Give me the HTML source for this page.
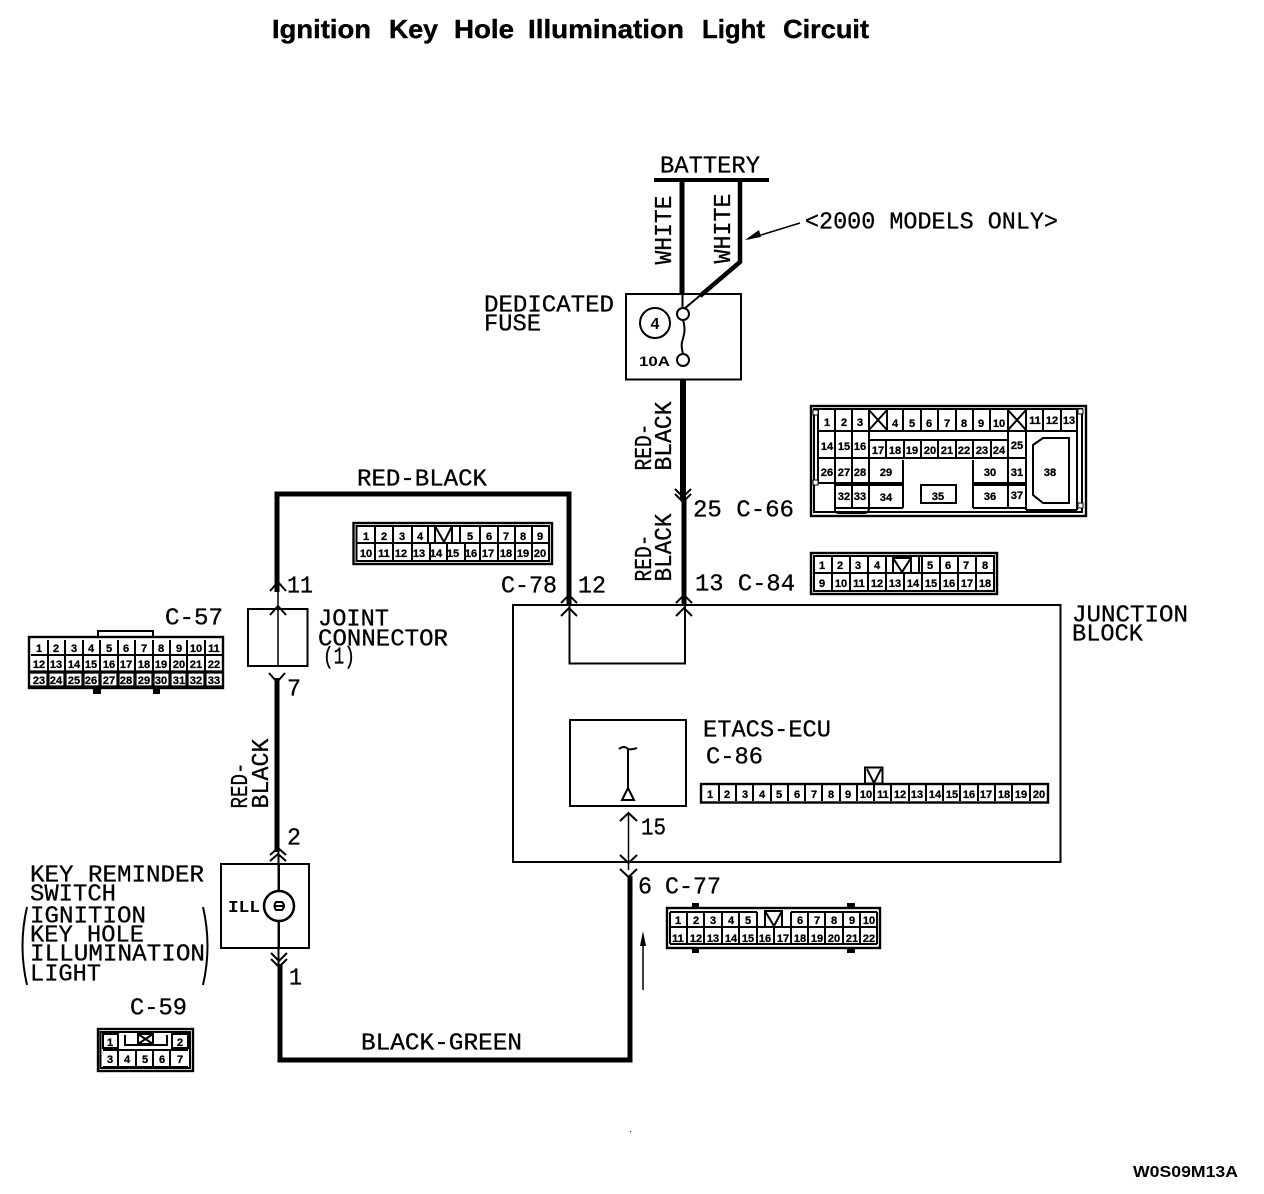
<!DOCTYPE html>
<html><head><meta charset="utf-8"><title>Ignition Key Hole Illumination Light Circuit</title>
<style>
html,body{margin:0;padding:0;background:#fff}
svg{display:block}
.l{font-family:"Liberation Mono",monospace;font-size:24px;fill:#000;stroke:#000;stroke-width:.3}
.t{font-family:"Liberation Sans",sans-serif;font-weight:bold;font-size:26px;fill:#000;stroke:#000;stroke-width:.4}
.n text{font-family:"Liberation Sans",sans-serif;font-weight:bold;font-size:11px;text-anchor:middle;fill:#000;stroke:#000;stroke-width:.3}
.g{fill:none;stroke:#000;stroke-width:2}
.o{fill:#fff;stroke:#000;stroke-width:2.4}
.w{fill:none;stroke:#000;stroke-width:5}
.a{fill:none;stroke:#000;stroke-width:2}
.b{fill:none;stroke:#000;stroke-width:2}
</style></head><body>
<svg width="1264" height="1194" viewBox="0 0 1264 1194" xmlns="http://www.w3.org/2000/svg">
<rect width="1264" height="1194" fill="#fff"/>
<!-- title -->
<g transform="translate(0 -1)">
<text class="t" x="272" y="39" textLength="99" lengthAdjust="spacingAndGlyphs">Ignition</text>
<text class="t" x="389" y="39" textLength="49" lengthAdjust="spacingAndGlyphs">Key</text>
<text class="t" x="454" y="39" textLength="60" lengthAdjust="spacingAndGlyphs">Hole</text>
<text class="t" x="528" y="39" textLength="156" lengthAdjust="spacingAndGlyphs">Illumination</text>
<text class="t" x="702" y="39" textLength="63" lengthAdjust="spacingAndGlyphs">Light</text>
<text class="t" x="783" y="39" textLength="86" lengthAdjust="spacingAndGlyphs">Circuit</text>
</g>

<!-- boxes -->
<rect x="626" y="294" width="115" height="85.500" class="b" />
<rect x="248" y="609" width="59.500" height="57" class="b"/>
<rect x="221" y="864" width="88" height="84" class="b"/>
<rect x="513" y="605" width="547.500" height="257" class="b" stroke-width="2.500"/>
<path d="M569.500 605V663.500H685V605" class="b"/>
<rect x="570" y="720" width="116" height="86" class="b"/>

<!-- wires -->
<path d="M654 180H769" fill="none" stroke="#000" stroke-width="4"/>
<path d="M682 180V294" fill="none" stroke="#000" stroke-width="5"/>
<path d="M682.500 294V308" fill="none" stroke="#000" stroke-width="2"/>
<path d="M740 181V262L700 296" fill="none" stroke="#000" stroke-width="4.500"/>
<path d="M703 293L684 309" class="a"/>
<path d="M683 380V500" fill="none" stroke="#000" stroke-width="6"/>
<path d="M684 500V604" fill="none" stroke="#000" stroke-width="5"/>
<path d="M277 592V494H569V604" class="w"/>
<path d="M278 590V666" fill="none" stroke="#000" stroke-width="1.500"/>
<path d="M277 678V852" class="w"/>
<path d="M278.500 850V968" fill="none" stroke="#000" stroke-width="2"/>
<path d="M280 964V1060H630V876" class="w"/>
<path d="M628.500 814V870" fill="none" stroke="#000" stroke-width="1.500"/>

<!-- chevrons -->
<path d="M561 603L569 595L577 603M561 616L569 608L577 616M676 603L684 595L692 603M676 616L684 608L692 616" class="a"/>
<path d="M675 489L683 497L691 489M675 494L683 502L691 494" class="a"/>
<path d="M270 591L278 582L286 591M270 615L278 606L286 615" class="a"/>
<path d="M269 673L277 682L285 673" class="a"/>
<path d="M270 855L278 848L286 855M270 861L278 854L286 861" class="a"/>
<path d="M271 953L279 961L287 953M271 959L279 967L287 959" class="a"/>
<path d="M620 821L628.500 813L637 821M620 855L628.500 863L637 855M620 869L628.500 877L637 869" class="a"/>

<!-- fuse -->
<circle cx="655" cy="323" r="15" fill="#fff" stroke="#000" stroke-width="2"/>
<text x="655" y="329" text-anchor="middle" font-family="Liberation Sans,sans-serif" font-weight="bold" font-size="16">4</text>
<circle cx="683" cy="314" r="6" fill="#fff" stroke="#000" stroke-width="2"/>
<circle cx="683" cy="360" r="6" fill="#fff" stroke="#000" stroke-width="2"/>
<path d="M683 320C686 330 684 335 682 342C681 346 682 350 683 354" class="b"/>
<text x="639" y="366" font-family="Liberation Sans,sans-serif" font-weight="bold" font-size="14" textLength="31" lengthAdjust="spacingAndGlyphs">10A</text>

<!-- 2000 arrow -->
<path d="M800 223L748 239" fill="none" stroke="#000" stroke-width="1.500"/>
<path d="M745 240L759 230L761 237Z" fill="#000"/>

<!-- switch symbol -->
<circle cx="279" cy="906" r="15" fill="#fff" stroke="#000" stroke-width="2.500"/>
<path d="M279 864V892M279 920V948" fill="none" stroke="#000" stroke-width="2"/>
<path d="M282 902H276Q273 906 276 910H282Q286 906 282 902ZM274 906H285" fill="none" stroke="#000" stroke-width="2"/>
<text x="228" y="912" font-family="Liberation Mono,monospace" font-weight="bold" font-size="17" textLength="32" lengthAdjust="spacingAndGlyphs">ILL</text>
<path d="M27 907Q18 946 27 985M203 907Q212 946 203 985" class="b"/>

<!-- ecu symbol -->
<path d="M619 749Q624 745 628 749Q632 750 637 748M628 749V791" class="b"/>
<path d="M628 788L622 800H634Z" fill="#fff" stroke="#000" stroke-width="2"/>

<!-- small arrow -->
<path d="M643 945V990" fill="none" stroke="#000" stroke-width="1.500"/>
<path d="M643 931L640 946H646Z" fill="#000"/>
<rect x="630" y="1131" width="1" height="1" fill="#000"/>

<!-- labels -->
<g transform="translate(0 -1.500)">
<text class="l" x="660" y="174" textLength="100" lengthAdjust="spacingAndGlyphs">BATTERY</text>
<text class="l" x="805" y="230" textLength="253" lengthAdjust="spacingAndGlyphs">&lt;2000 MODELS ONLY&gt;</text>
<text class="l" x="484" y="313" textLength="130" lengthAdjust="spacingAndGlyphs">DEDICATED</text>
<text class="l" x="484" y="332" textLength="57" lengthAdjust="spacingAndGlyphs">FUSE</text>
<text class="l" transform="translate(671 266) rotate(-90)" textLength="69" lengthAdjust="spacingAndGlyphs">WHITE</text>
<text class="l" transform="translate(730 265) rotate(-90)" textLength="70" lengthAdjust="spacingAndGlyphs">WHITE</text>
<text class="l" transform="translate(651 472) rotate(-90)" textLength="47" lengthAdjust="spacingAndGlyphs">RED-</text>
<text class="l" transform="translate(671 472) rotate(-90)" textLength="69" lengthAdjust="spacingAndGlyphs">BLACK</text>
<text class="l" transform="translate(651 583) rotate(-90)" textLength="47" lengthAdjust="spacingAndGlyphs">RED-</text>
<text class="l" transform="translate(671 583) rotate(-90)" textLength="68" lengthAdjust="spacingAndGlyphs">BLACK</text>
<text class="l" transform="translate(247 810) rotate(-90)" textLength="46" lengthAdjust="spacingAndGlyphs">RED-</text>
<text class="l" transform="translate(268 810) rotate(-90)" textLength="70" lengthAdjust="spacingAndGlyphs">BLACK</text>
<text class="l" x="693" y="518" textLength="101" lengthAdjust="spacingAndGlyphs">25 C-66</text>
<text class="l" x="695" y="592" textLength="100" lengthAdjust="spacingAndGlyphs">13 C-84</text>
<text class="l" x="357" y="487" textLength="130" lengthAdjust="spacingAndGlyphs">RED-BLACK</text>
<text class="l" x="501" y="594" textLength="56" lengthAdjust="spacingAndGlyphs">C-78</text>
<text class="l" x="578" y="594" textLength="28" lengthAdjust="spacingAndGlyphs">12</text>
<text class="l" x="287" y="594" textLength="26" lengthAdjust="spacingAndGlyphs">11</text>
<text class="l" x="165" y="626" textLength="58" lengthAdjust="spacingAndGlyphs">C-57</text>
<text class="l" x="318" y="627" textLength="71" lengthAdjust="spacingAndGlyphs">JOINT</text>
<text class="l" x="318" y="647" textLength="130" lengthAdjust="spacingAndGlyphs">CONNECTOR</text>
<text class="l" x="323" y="665" textLength="32" lengthAdjust="spacingAndGlyphs">(1)</text>
<text class="l" x="287" y="697" textLength="14" lengthAdjust="spacingAndGlyphs">7</text>
<text class="l" x="287" y="846" textLength="14" lengthAdjust="spacingAndGlyphs">2</text>
<text class="l" x="289" y="986" textLength="13" lengthAdjust="spacingAndGlyphs">1</text>
<text class="l" x="1072" y="623" textLength="116" lengthAdjust="spacingAndGlyphs">JUNCTION</text>
<text class="l" x="1072" y="642" textLength="71" lengthAdjust="spacingAndGlyphs">BLOCK</text>
<text class="l" x="703" y="738" textLength="128" lengthAdjust="spacingAndGlyphs">ETACS-ECU</text>
<text class="l" x="706" y="765" textLength="57" lengthAdjust="spacingAndGlyphs">C-86</text>
<text class="l" x="641" y="836" textLength="25" lengthAdjust="spacingAndGlyphs">15</text>
<text class="l" x="638" y="895" textLength="14" lengthAdjust="spacingAndGlyphs">6</text>
<text class="l" x="665" y="895" textLength="56" lengthAdjust="spacingAndGlyphs">C-77</text>
<text class="l" x="30" y="883" textLength="174" lengthAdjust="spacingAndGlyphs">KEY REMINDER</text>
<text class="l" x="30" y="902" textLength="86" lengthAdjust="spacingAndGlyphs">SWITCH</text>
<text class="l" x="30" y="924" textLength="116" lengthAdjust="spacingAndGlyphs">IGNITION</text>
<text class="l" x="30" y="943" textLength="114" lengthAdjust="spacingAndGlyphs">KEY HOLE</text>
<text class="l" x="30" y="962" textLength="175" lengthAdjust="spacingAndGlyphs">ILLUMINATION</text>
<text class="l" x="30" y="982" textLength="71" lengthAdjust="spacingAndGlyphs">LIGHT</text>
<text class="l" x="130" y="1016" textLength="57" lengthAdjust="spacingAndGlyphs">C-59</text>
<text class="l" x="361" y="1051" textLength="161" lengthAdjust="spacingAndGlyphs">BLACK-GREEN</text>
</g>
<text x="1133" y="1177" font-family="Liberation Sans,sans-serif" font-weight="bold" font-size="16" textLength="105" lengthAdjust="spacingAndGlyphs">W0S09M13A</text>

<!-- C-66 -->
<g class="n">
<rect x="811" y="406" width="275" height="110" class="o"/>
<rect x="814" y="409" width="268" height="103" class="g"/>
<path class="g" d="M818 410V482M835 410V508M852 410V508M869 410V508M887 410V430M903 410V430M921 410V430M938 410V430M956 410V430M973 410V430M990 410V430M1008 410V508M1026 410V510M1043 410V430M1061 410V430M1077 410V510M818 431H1077M818 458H1026M818 483H903M973 483H1026M835 485H903M973 485H1026M869 440H1008M886 440V457M904 440V457M921 440V457M938 440V457M956 440V457M973 440V457M991 440V457M903 460V508M973 460V508M835 508H903M973 508H1026M921 485H956V503H921ZM1026 510H1077"/>
<path class="g" d="M835 508V510Q835 513 840 513H864Q869 513 869 508"/>
<path class="a" d="M869 410L887 430M887 410L869 430M1008 410L1026 430M1026 410L1008 430"/>
<path class="g" d="M1033 445L1043 438H1069V503H1043L1033 495Z"/>
<rect x="813" y="410" width="5" height="5" fill="#fff" stroke="#000"/>
<rect x="813" y="480" width="5" height="5" fill="#fff" stroke="#000"/>
<rect x="1078" y="409" width="5" height="5" fill="#fff" stroke="#000"/>
<rect x="1078" y="503" width="5" height="5" fill="#fff" stroke="#000"/>
<text x="827" y="426">1</text><text x="844" y="426">2</text><text x="860" y="426">3</text>
<text x="895" y="427">4</text><text x="912" y="427">5</text><text x="929" y="427">6</text><text x="947" y="427">7</text><text x="964" y="427">8</text><text x="981" y="427">9</text><text x="999" y="427">10</text>
<text x="1035" y="424">11</text><text x="1052" y="424">12</text><text x="1069" y="424">13</text>
<text x="827" y="450">14</text><text x="844" y="450">15</text><text x="860" y="450">16</text>
<text x="878" y="454">17</text><text x="895" y="454">18</text><text x="912" y="454">19</text><text x="930" y="454">20</text><text x="947" y="454">21</text><text x="964" y="454">22</text><text x="982" y="454">23</text><text x="999" y="454">24</text>
<text x="1017" y="449">25</text>
<text x="827" y="476">26</text><text x="844" y="476">27</text><text x="860" y="476">28</text>
<text x="886" y="476">29</text><text x="990" y="476">30</text><text x="1017" y="476">31</text><text x="1050" y="476">38</text>
<text x="844" y="500">32</text><text x="860" y="500">33</text><text x="886" y="501">34</text><text x="938" y="500">35</text><text x="990" y="500">36</text><text x="1017" y="499">37</text>
</g>

<!-- C-84 -->
<g class="n">
<rect x="811" y="553" width="186" height="41" class="o"/>
<rect x="814" y="556" width="180" height="35" class="g"/>
<path class="g" d="M814 573H994M832 557V591M850 557V591M868 557V591M886 573V591M904 573V591M922 557V591M940 557V591M958 557V591M976 557V591M868 557V573M886 557V573M919 557V573"/>
<path class="a" d="M893 572V558H911V572M893 558L902 572L911 558"/>
<text x="822" y="569">1</text><text x="840" y="569">2</text><text x="858" y="569">3</text><text x="877" y="569">4</text>
<text x="930" y="569">5</text><text x="948" y="569">6</text><text x="966" y="569">7</text><text x="985" y="569">8</text>
<text x="822" y="587">9</text><text x="841" y="587">10</text><text x="859" y="587">11</text><text x="877" y="587">12</text><text x="895" y="587">13</text><text x="913" y="587">14</text><text x="931" y="587">15</text><text x="949" y="587">16</text><text x="967" y="587">17</text><text x="985" y="587">18</text>
</g>

<!-- C-78 -->
<g class="n">
<rect x="353.500" y="523" width="198.500" height="41" class="o"/>
<rect x="356.500" y="526" width="192.500" height="35" class="g"/>
<path class="g" d="M357 543H549M375 527V560M393 527V560M412 527V560M428 527V543M430 543V560M447 543V560M465 543V560M460 527V543M480 527V560M498 527V560M515 527V560M532 527V560"/>
<path class="a" d="M435 542V526H452V542M435 526L444 542L452 526"/>
<text x="366" y="540">1</text><text x="384" y="540">2</text><text x="402" y="540">3</text><text x="420" y="540">4</text>
<text x="470" y="540">5</text><text x="489" y="540">6</text><text x="506" y="540">7</text><text x="523" y="540">8</text><text x="540" y="540">9</text>
<text x="366" y="557">10</text><text x="384" y="557">11</text><text x="401" y="557">12</text><text x="419" y="557">13</text><text x="436" y="557">14</text><text x="453" y="557">15</text><text x="471" y="557">16</text><text x="488" y="557">17</text><text x="506" y="557">18</text><text x="523" y="557">19</text><text x="540" y="557">20</text>
</g>

<!-- C-57 -->
<g class="n">
<path class="b" d="M98 637V631H153V637"/>
<rect x="29" y="637" width="194" height="51" class="o"/>
<rect x="93" y="688" width="8" height="6" fill="#000"/><rect x="153" y="688" width="7" height="6" fill="#000"/>
<path class="g" d="M31 655H222M48 640V687M65 640V687M83 640V687M100 640V687M118 640V687M135 640V687M153 640V687M170 640V687M187 640V687M205 640V687"/>
<path fill="none" stroke="#000" stroke-width="3.200" d="M30 672H222M30 687H222M48 672V687M65 672V687M83 672V687M100 672V687M118 672V687M135 672V687M153 672V687M170 672V687M187 672V687M205 672V687"/>
<text x="39" y="652">1</text><text x="56" y="652">2</text><text x="74" y="652">3</text><text x="91" y="652">4</text><text x="109" y="652">5</text><text x="126" y="652">6</text><text x="144" y="652">7</text><text x="161" y="652">8</text><text x="179" y="652">9</text><text x="196" y="652">10</text><text x="214" y="652">11</text>
<text x="39" y="668">12</text><text x="56" y="668">13</text><text x="74" y="668">14</text><text x="91" y="668">15</text><text x="109" y="668">16</text><text x="126" y="668">17</text><text x="144" y="668">18</text><text x="161" y="668">19</text><text x="179" y="668">20</text><text x="196" y="668">21</text><text x="214" y="668">22</text>
<text x="39" y="684">23</text><text x="56" y="684">24</text><text x="74" y="684">25</text><text x="91" y="684">26</text><text x="109" y="684">27</text><text x="126" y="684">28</text><text x="144" y="684">29</text><text x="161" y="684">30</text><text x="179" y="684">31</text><text x="196" y="684">32</text><text x="214" y="684">33</text>
</g>

<!-- C-59 -->
<g class="n">
<rect x="98" y="1029" width="95" height="42" class="o"/>
<rect x="100.500" y="1032" width="89.500" height="36" class="g"/>
<path class="g" d="M103 1034H118V1048H103ZM172 1034H188V1048H172ZM125 1035V1045H167V1035M103 1050H188M103 1067H188M118 1050V1067M136 1050V1067M153 1050V1067M170 1050V1067"/>
<rect x="138" y="1034" width="15" height="10" class="g"/>
<path class="a" d="M138 1034L153 1044M153 1034L138 1044"/>
<text x="110" y="1046">1</text><text x="180" y="1046">2</text>
<text x="110" y="1063">3</text><text x="127" y="1063">4</text><text x="145" y="1063">5</text><text x="162" y="1063">6</text><text x="180" y="1063">7</text>
</g>

<!-- C-86 -->
<g class="n">
<rect x="865" y="767.500" width="17.500" height="16" class="b" fill="#fff"/>
<path class="b" d="M867 769L874 783L881 769"/>
<rect x="701" y="784" width="347" height="18.500" class="o"/>
<path class="g" d="M719 785V801M736 785V801M753 785V801M771 785V801M788 785V801M805 785V801M822 785V801M840 785V801M857 785V801M874 785V801M891 785V801M909 785V801M926 785V801M943 785V801M960 785V801M978 785V801M995 785V801M1012 785V801M1030 785V801"/>
<text x="710" y="798">1</text><text x="727" y="798">2</text><text x="745" y="798">3</text><text x="762" y="798">4</text><text x="779" y="798">5</text><text x="797" y="798">6</text><text x="814" y="798">7</text><text x="831" y="798">8</text><text x="848" y="798">9</text><text x="866" y="798">10</text><text x="883" y="798">11</text><text x="900" y="798">12</text><text x="917" y="798">13</text><text x="935" y="798">14</text><text x="952" y="798">15</text><text x="969" y="798">16</text><text x="986" y="798">17</text><text x="1004" y="798">18</text><text x="1021" y="798">19</text><text x="1039" y="798">20</text>
</g>

<!-- C-77 -->
<g class="n">
<rect x="692" y="903" width="7" height="5" fill="#000"/><rect x="847" y="903" width="8" height="5" fill="#000"/>
<rect x="692" y="948" width="7" height="5" fill="#000"/><rect x="847" y="948" width="8" height="5" fill="#000"/>
<rect x="667" y="908" width="213" height="40" class="o"/>
<path class="g" d="M670 912V944M877 912V944M670 912H757M791 912H877M670 927H877M670 944H877M687 912V944M704 912V944M722 912V944M739 912V944M757 912V944M774 927V944M791 912V944M808 912V944M825 912V944M843 912V944M860 912V944"/>
<path class="a" d="M765 926V911H782V926M765 911L774 926L782 911"/>
<text x="678" y="924">1</text><text x="696" y="924">2</text><text x="713" y="924">3</text><text x="731" y="924">4</text><text x="748" y="924">5</text><text x="800" y="924">6</text><text x="817" y="924">7</text><text x="834" y="924">8</text><text x="852" y="924">9</text><text x="869" y="924">10</text>
<text x="678" y="942">11</text><text x="696" y="942">12</text><text x="713" y="942">13</text><text x="731" y="942">14</text><text x="748" y="942">15</text><text x="765" y="942">16</text><text x="783" y="942">17</text><text x="800" y="942">18</text><text x="817" y="942">19</text><text x="834" y="942">20</text><text x="852" y="942">21</text><text x="869" y="942">22</text>
</g>
</svg>
</body></html>
